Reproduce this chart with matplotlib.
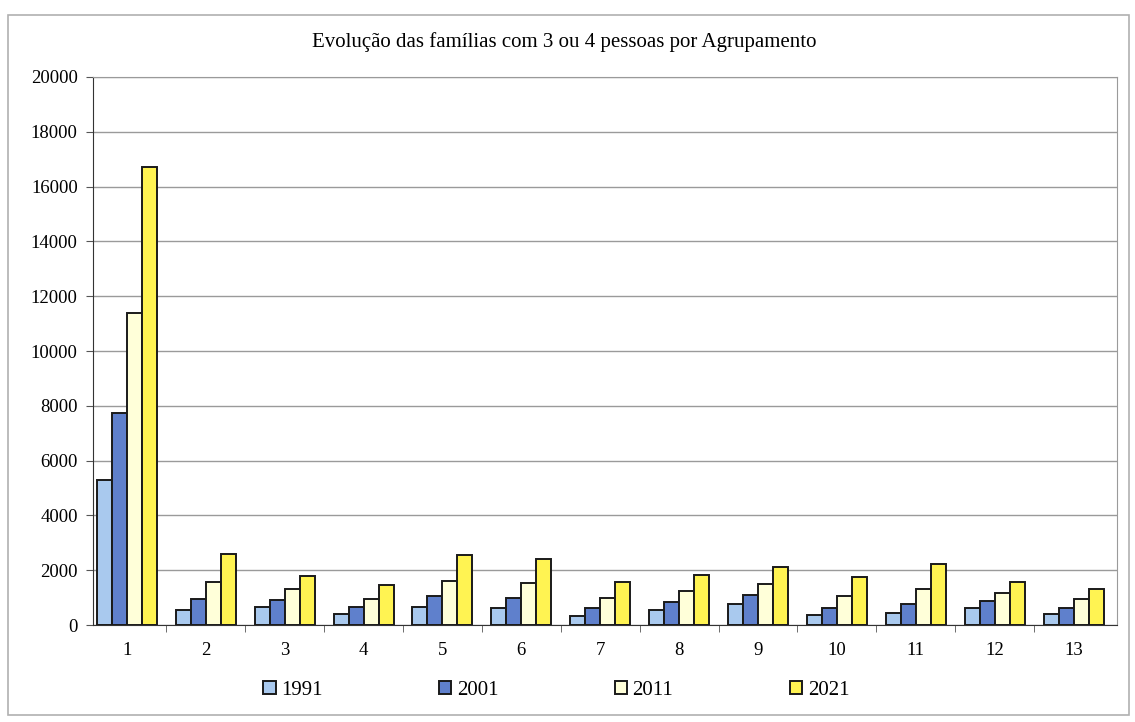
import matplotlib
matplotlib.use('Agg')
import matplotlib.pyplot as plt
import numpy as np
from matplotlib.patches import Rectangle

plt.rcParams['font.family'] = ['Liberation Serif', 'DejaVu Serif']

TITLE = 'Evolução das famílias com 3 ou 4 pessoas por Agrupamento'
agrupamentos = [str(i) for i in range(1, 14)]
anos = ['1991', '2001', '2011', '2021']
v1991 = [5300, 560, 650, 400, 650, 620, 320, 560, 780, 370, 440, 620, 420]
v2001 = [7750, 950, 920, 640, 1050, 1000, 610, 850, 1100, 620, 780, 870, 620]
v2011 = [11400, 1570, 1300, 960, 1610, 1520, 1000, 1240, 1500, 1050, 1300, 1170, 940]
v2021 = [16700, 2600, 1800, 1470, 2550, 2420, 1570, 1820, 2110, 1760, 2230, 1570, 1330]
cores = ['#a9c9ee', '#5f80cc', '#ffffd9', '#fff352']


def plot_chart():
    fig = plt.figure(figsize=(11.35, 7.22), dpi=100)
    ax = fig.add_axes([0.0819, 0.1343, 0.9022, 0.7591])

    x = np.arange(len(agrupamentos))
    w = 0.19
    series = [v1991, v2001, v2011, v2021]
    for i, (vals, cor, ano) in enumerate(zip(series, cores, anos)):
        ax.bar(x - 1.5 * w + i * w, vals, width=w, color=cor, edgecolor='#1a1a1a',
               linewidth=1.4, label=ano, zorder=3)

    ax.set_xlim(-0.43, 12.55)
    ax.set_ylim(0, 20000)
    ax.set_yticks(range(0, 20001, 2000))
    ax.yaxis.grid(True, color='#9a9a9a', linewidth=1.0, zorder=0)
    ax.set_xticks(x)
    ax.set_xticklabels(agrupamentos)
    ax.set_xticks(np.arange(0.5, 12.5, 1), minor=True)
    ax.tick_params(axis='x', which='major', length=0, pad=12, labelsize=13.5)
    ax.tick_params(axis='x', which='minor', length=5, color='#555555')
    ax.tick_params(axis='y', length=5, labelsize=13.5, pad=6, color='#555555')

    for s in ['top', 'right']:
        ax.spines[s].set_color('#9a9a9a')
    for s in ['left', 'bottom']:
        ax.spines[s].set_color('#333333')

    fig.text(0.497, 0.942, TITLE, ha='center', va='center', fontsize=15)

    fig.legend(loc='center', bbox_to_anchor=(0.49, 0.044), ncol=4, frameon=False,
               fontsize=15, handlelength=0.6, handleheight=0.6, handletextpad=0.25,
               columnspacing=5.6)

    fig.patches.append(Rectangle((0.007, 0.01), 0.988, 0.969, transform=fig.transFigure,
                                 fill=False, edgecolor='#b0b0b0', linewidth=1.2))

    plt.savefig('out.png', dpi=100)


if __name__ == '__main__':
    plot_chart()
